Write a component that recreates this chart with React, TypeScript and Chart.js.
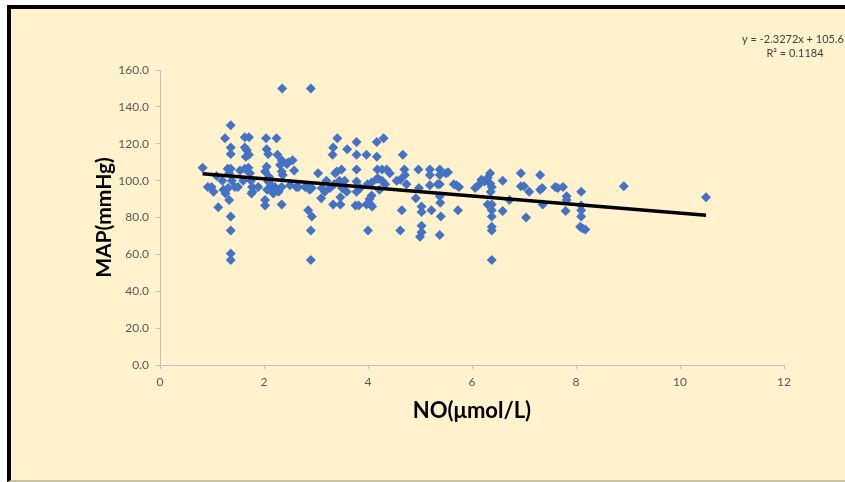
import React, { useEffect, useRef } from "react";
import { Chart, registerables } from "chart.js";

Chart.register(...registerables);

// NO (µmol/L) values
const noValues = [
  0.82, 0.92, 0.99, 1.03, 1.12, 1.09, 1.2,
  1.25, 1.36, 1.36, 1.36, 1.3, 1.36, 1.33, 1.22, 1.31, 1.26, 1.33, 1.36, 1.36, 1.36, 1.36, 1.44, 1.5, 1.38,
  1.63, 1.71, 1.63, 1.67, 1.71, 1.65, 1.54, 1.63, 1.7, 1.73, 1.75, 1.77, 1.78, 1.76, 1.89, 1.6,
  2.04, 2.05, 2.08, 2.05, 2.02, 2.1, 2.08, 2.06, 2.12, 2.18, 2.02, 2.02, 2.14,
  2.24, 2.26, 2.34, 2.31, 2.47, 2.55, 2.44, 2.34, 2.35, 2.36, 2.34, 2.21, 2.28, 2.34, 2.58, 2.5, 2.62,
  2.66, 2.79, 2.85, 2.92, 2.88, 2.85, 2.92, 2.9, 2.9, 2.9, 3.04, 3.1, 3.11, 3.17,
  3.2, 3.27, 3.32, 3.33, 3.41, 3.37, 3.49, 3.33, 3.47, 3.47, 3.45, 3.55, 3.6, 3.35, 3.5, 3.59, 3.4,
  3.78, 3.78, 3.78, 3.78, 3.78, 3.76, 3.82, 3.85, 3.97, 4.0, 3.97, 4.05, 4.08, 4.03, 4.07, 3.99, 4.07,
  4.17, 4.17, 4.3, 4.18, 4.27, 4.36, 4.17, 4.2, 4.27, 4.33, 4.22, 4.42,
  4.67, 4.62, 4.7, 4.71, 4.55, 4.74, 4.65, 4.62,
  4.97, 4.92, 4.98, 5.03, 5.03, 5.03, 5.03, 5.0, 5.19, 5.19, 5.19, 5.22,
  5.38, 5.38, 5.38, 5.34, 5.54, 5.5, 5.38, 5.39, 5.4, 5.38, 5.73, 5.7, 5.65, 5.75,
  6.06, 6.12, 6.18, 6.24, 6.3, 6.35, 6.38, 6.36, 6.3, 6.38, 6.38, 6.38, 6.38, 6.38, 6.38, 6.35,
  6.59, 6.59, 6.72, 6.94, 6.94, 7.0, 7.1, 7.04,
  7.31, 7.31, 7.35, 7.36, 7.6, 7.65, 7.75, 7.82, 7.82, 7.8,
  8.1, 8.1, 8.1, 8.1, 8.08, 8.13, 8.18,
  8.92, 10.5,
];

// MAP (mmHg) values
const mapValues = [
  107, 96.5, 96.5, 94, 85.5, 102.5, 100,
  123, 130, 118, 114.5, 106.5, 106.5, 104, 95, 96, 93, 89.5, 80.5, 73, 60.5, 57, 96.5, 96.5, 100,
  123.5, 123.5, 118, 116.5, 114, 113, 105.5, 106.5, 107, 104, 100, 96.5, 94, 93, 96.5, 100,
  123, 117, 114.5, 107.5, 105, 102, 99.5, 95, 95, 93, 89.5, 86.5, 97.5,
  123, 114, 111, 108.5, 110, 111, 109, 105, 150, 103, 96.5, 96.5, 94, 87, 105.5, 97.5, 96.5,
  96.5, 96.5, 96, 96, 95, 84, 80.5, 73, 57, 150, 104, 90.5, 96, 94,
  100, 96, 114, 118, 123, 104, 106, 87, 91, 87, 100, 100, 117, 98, 96, 94, 105,
  121, 114, 106, 99.5, 94, 86.5, 86.5, 96, 114, 73, 87, 87, 86, 90, 92, 98, 99,
  113, 121, 123, 106, 106, 106, 101, 101, 100, 98, 95, 104,
  114, 100.5, 106, 103, 100, 98, 84, 73,
  106, 90.5, 96, 86, 83, 75.5, 72, 69.5, 106, 103, 97.5, 84,
  106, 103, 98, 98, 104.5, 104, 91.5, 88, 80.5, 70.5, 84, 97.5, 98, 96.5,
  96, 97.5, 100.5, 99.5, 101.5, 104, 96.5, 94, 87, 87, 84, 80.5, 75, 73, 57, 98.5,
  100, 83.5, 89.5, 104, 97, 97, 94, 80,
  103, 95, 96, 87, 96.5, 96, 96.5, 91.5, 89.5, 83.5,
  94, 86.5, 84, 80.5, 75, 74, 73.5,
  97, 91,
];

// Linear trendline end points
const trendX = [0.82, 10.5];
const trendY = [103.7, 81.2];

const xTickValues = [0, 2, 4, 6, 8, 10, 12];
const yTickValues = [0, 20, 40, 60, 80, 100, 120, 140, 160];

const xTitle = "NO(μmol/L)";
const yTitle = "MAP(mmHg)";
const equationText = "y = -2.3272x + 105.6";
const r2Text = "R² = 0.1184";

const FONT = "Lato, 'Liberation Sans', sans-serif";

const trendLabelPlugin = {
  id: "trendLabel",
  afterDraw(chart: any) {
    const ctx = chart.ctx;
    ctx.save();
    ctx.fillStyle = "#404040";
    ctx.font = `11px ${FONT}`;
    ctx.textAlign = "center";
    ctx.textBaseline = "middle";
    ctx.fillText(equationText, 793, 39);
    ctx.fillText(r2Text, 795, 53);
    ctx.restore();
  },
};

export default function App() {
  const canvasRef = useRef<HTMLCanvasElement | null>(null);

  useEffect(() => {
    if (!canvasRef.current) return;
    const points = noValues.map((x, i) => ({ x, y: mapValues[i] }));
    const trend = trendX.map((x, i) => ({ x, y: trendY[i] }));
    const chart = new Chart(canvasRef.current, {
      type: "scatter",
      data: {
        datasets: [
          {
            label: "Linear (MAP)",
            data: trend,
            showLine: true,
            borderColor: "#000000",
            borderWidth: 3.5,
            pointRadius: 0,
            order: 0,
          },
          {
            label: "MAP",
            data: points,
            pointStyle: "rectRot",
            pointRadius: 5,
            pointBorderWidth: 0,
            backgroundColor: "#4472C4",
            borderColor: "#4472C4",
            order: 1,
          },
        ],
      },
      options: {
        responsive: false,
        maintainAspectRatio: false,
        animation: false,
        devicePixelRatio: 1,
        layout: { padding: { top: 70, right: 61, left: 0, bottom: 0 } },
        plugins: {
          legend: { display: false },
          tooltip: { enabled: false },
        },
        scales: {
          x: {
            type: "linear",
            min: 0,
            max: 12,
            afterBuildTicks: (s: any) => {
              s.ticks = xTickValues.map((v) => ({ value: v }));
            },
            afterFit: (s: any) => {
              s.height = 117;
            },
            ticks: {
              color: "#595959",
              font: { family: FONT, size: 12 },
              padding: 6,
              maxRotation: 0,
              callback: (v: any) => String(v),
            },
            grid: {
              display: true,
              drawOnChartArea: false,
              drawTicks: true,
              tickLength: 4,
              color: "#bfbfbf",
            },
            border: { color: "#bfbfbf", width: 1 },
            title: {
              display: true,
              text: xTitle,
              color: "#000000",
              font: { family: FONT, size: 22, weight: "bold" },
              padding: { top: 0, bottom: 58 },
            },
          },
          y: {
            type: "linear",
            min: 0,
            max: 160,
            afterBuildTicks: (s: any) => {
              s.ticks = yTickValues.map((v) => ({ value: v }));
            },
            afterFit: (s: any) => {
              s.width = 160;
            },
            ticks: {
              color: "#595959",
              font: { family: FONT, size: 12 },
              padding: 7,
              callback: (v: any) => Number(v).toFixed(1),
            },
            grid: {
              display: true,
              drawOnChartArea: false,
              drawTicks: true,
              tickLength: 4,
              color: "#bfbfbf",
            },
            border: { color: "#bfbfbf", width: 1 },
            title: {
              display: true,
              text: yTitle,
              color: "#000000",
              font: { family: FONT, size: 21, weight: "bold" },
              padding: { top: 92, bottom: 0 },
            },
          },
        },
      },
      plugins: [trendLabelPlugin],
    });
    return () => chart.destroy();
  }, []);

  return (
    <div style={{ position: "fixed", left: 0, top: 0, width: 845, height: 482, background: "#ffffff" }}>
      <div
        style={{
          position: "absolute",
          left: 7,
          top: 5,
          width: 838,
          height: 477,
          boxSizing: "border-box",
          borderLeft: "4px solid #000000",
          borderTop: "4px solid #000000",
          borderBottom: "2px solid #c9c3a3",
          background: "#FFF2CC",
        }}
      />
      <canvas
        ref={canvasRef}
        width={845}
        height={482}
        style={{ position: "absolute", left: 0, top: 0, width: 845, height: 482 }}
      />
    </div>
  );
}
